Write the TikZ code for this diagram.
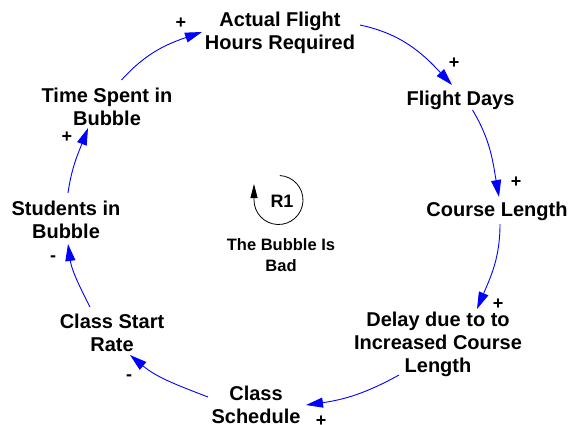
\documentclass[tikz,border=0pt]{standalone}
\usepackage{fontspec}
\setmainfont{Liberation Sans}
\usetikzlibrary{arrows.meta}
\definecolor{linkblue}{RGB}{0,0,255}
\begin{document}
\begin{tikzpicture}[x=1pt,y=1pt,
  var/.style={inner sep=0pt, align=center, font=\fontsize{20}{23}\selectfont\bfseries},
  sign/.style={inner sep=0pt, font=\fontsize{18}{18}\selectfont\bfseries},
  loopname/.style={inner sep=0pt, font=\fontsize{18}{18}\selectfont\bfseries},
  looptitle/.style={inner sep=0pt, align=center, font=\fontsize{16.5}{21}\selectfont\bfseries},
  link/.style={draw=linkblue, line width=0.9pt, -{Triangle[length=17pt,width=10pt,fill=linkblue]}},
  loopline/.style={draw=black, line width=0.8pt, -{Triangle[length=14pt,width=7pt]}}]
\useasboundingbox (0,0) rectangle (577,-424);

% variables
\node[var] (afh) at (280,-33)   {Actual Flight\\Hours Required};
\node[var] (fd)  at (460.5,-100) {Flight Days};
\node[var] (cl)  at (497,-211)  {Course Length};
\node[var] (dly) at (438,-344)  {Delay due to to\\Increased Course\\Length};
\node[var] (cs)  at (256,-405)  {Class\\Schedule};
\node[var] (csr) at (112,-333)  {Class Start\\Rate};
\node[var] (sib) at (66,-220)   {Students in\\Bubble};
\node[var] (tsb) at (107,-107)  {Time Spent in\\Bubble};

% causal links
\draw[link] ([shift={(14.5,27)}]tsb.center) to[out=48,in=199] ([shift={(-78,1)}]afh.center);
\draw[link] ([shift={(80,8)}]afh.center) to[out=-12,in=133] ([shift={(-8.5,15)}]fd.center);
\draw[link] ([shift={(12,-10)}]fd.center) to[out=-59,in=100] ([shift={(2,14)}]cl.center);
\draw[link] ([shift={(3,-13)}]cl.center) to[out=-90,in=67] ([shift={(39,35)}]dly.center);
\draw[link] ([shift={(-39,-31)}]dly.center) to[out=-151,in=8] ([shift={(50,0)}]cs.center);
\draw[link] ([shift={(-48,8)}]cs.center) to[out=159,in=-40] ([shift={(18,-22)}]csr.center);
\draw[link] ([shift={(-22,26)}]csr.center) to[out=117,in=-82] ([shift={(2,-24)}]sib.center);
\draw[link] ([shift={(2,27)}]sib.center) to[out=82,in=-111] ([shift={(-19,-21)}]tsb.center);

% link polarities
\node[sign] (s1) at (181,-23)  {+};
\node[sign] (s2) at (454,-63)  {+};
\node[sign] (s3) at (516,-182) {+};
\node[sign] (s4) at (498,-304) {+};
\node[sign] (s5) at (321,-421) {+};
\node[sign] (s6) at (129,-378) {-};
\node[sign] (s7) at (53,-259)  {-};
\node[sign] (s8) at (67,-137)  {+};

% loop identifier
\coordinate (rc) at (278.5,-200);
\draw[loopline] ([shift={(87:24.5)}]rc) arc[start angle=87,end angle=-180,radius=24.5] -- ++(0,16);
\node[loopname] (r1) at (282,-201) {R1};
\node[looptitle] (rt) at (281,-255) {The Bubble Is\\Bad};
\end{tikzpicture}
\end{document}
